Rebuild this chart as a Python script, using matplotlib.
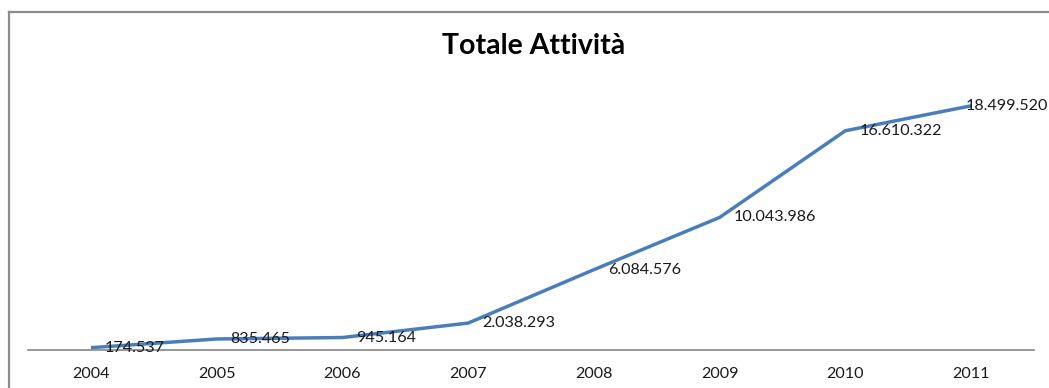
import matplotlib.pyplot as plt
from matplotlib.lines import Line2D

# serie storica
anni = ['2004', '2005', '2006', '2007', '2008', '2009', '2010', '2011']
attivita = [174537, 835465, 945164, 2038293, 6084576, 10043986, 16610322, 18499520]
etichette = ['174.537', '835.465', '945.164', '2.038.293', '6.084.576',
             '10.043.986', '16.610.322', '18.499.520']

plt.rcParams['font.family'] = ['Lato', 'DejaVu Sans']

W, H = 1049, 388
fig = plt.figure(figsize=(W / 100, H / 100), dpi=100)
fig.patch.set_facecolor('white')

# cornice del grafico
bordo = '#8c8c8c'
fig.add_artist(Line2D([8.5 / W, 1], [1 - 12 / H, 1 - 12 / H], color=bordo, lw=1.6,
                      transform=fig.transFigure))
fig.add_artist(Line2D([8.5 / W, 8.5 / W], [0, 1 - 12 / H], color=bordo, lw=1.6,
                      transform=fig.transFigure))

ax = fig.add_axes([28 / W, 38 / H, (1034 - 28) / W, (350 - 86) / H])
x = range(len(anni))
ax.plot(x, attivita, color='#4a7ebb', lw=2.5, solid_capstyle='butt')

ax.set_xlim(-0.5, len(anni) - 0.5)
ax.set_ylim(0, 20e6)
ax.set_xticks(list(x))
ax.set_xticklabels(anni, fontsize=11.6, color='#1a1a1a')
ax.tick_params(axis='x', length=0, pad=12.5)
ax.set_yticks([])
for s in ['top', 'right', 'left']:
    ax.spines[s].set_visible(False)
ax.spines['bottom'].set_color('#868686')
ax.spines['bottom'].set_linewidth(1.2)

# etichette dati a destra dei punti; l'ultima rientra nel riquadro
for i, (v, t) in enumerate(zip(attivita, etichette)):
    dx = -4 if i == len(anni) - 1 else 10
    ax.annotate(t, (i, v), xytext=(dx, 0), textcoords='offset points',
                ha='left', va='center', fontsize=11.6, color='#1a1a1a',
                annotation_clip=False)

fig.text(534 / W, 1 - 46 / H, 'Totale Attività', ha='center', va='center',
         fontsize=20.5, fontweight='bold', color='black')

fig.savefig('out.png', dpi=100, facecolor='white')
